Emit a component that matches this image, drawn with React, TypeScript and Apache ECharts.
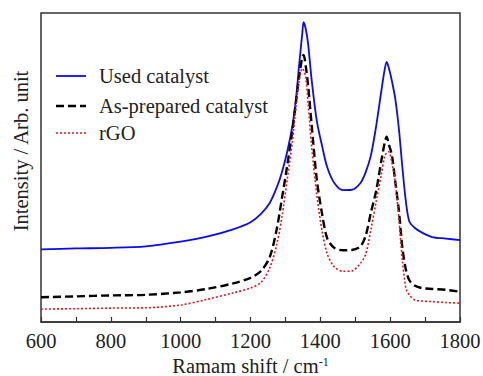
import React, { useEffect, useRef } from "react";
import * as echarts from "echarts";

const wavenumbers = [600, 700, 800, 900, 1000, 1075, 1150, 1200, 1230, 1255, 1275, 1290, 1305, 1320, 1330, 1340, 1348, 1352, 1358, 1365, 1375, 1390, 1405, 1420, 1440, 1465, 1490, 1515, 1530, 1545, 1560, 1575, 1584, 1590, 1596, 1605, 1615, 1625, 1635, 1645, 1655, 1670, 1690, 1720, 1760, 1800];

const usedCatalyst = [23.5, 23.8, 24, 24.5, 26, 27.6, 30, 32.3, 35, 38.5, 43.5, 48.5, 55, 63.5, 72, 84, 93, 97, 95, 90, 78.5, 65, 57, 50, 45, 42.7, 42.8, 45, 48.5, 54, 63.5, 75, 81.5, 84.2, 82.3, 78, 72, 62.5, 50, 39, 32.5, 30.5, 29, 27.5, 27, 26.5];

const asPrepared = [8, 8.3, 8.6, 8.8, 9.6, 10.7, 12.5, 14.3, 16.5, 21, 30, 40, 50.5, 62, 71, 80, 85.5, 86.4, 83, 76.5, 64, 46, 35, 27, 24, 23.2, 23.3, 24.5, 28, 35.5, 42.5, 52.4, 57.8, 60, 57.5, 54, 45, 36, 24, 17, 13.5, 11.8, 11, 10.7, 10.4, 9.8];

const rGO = [4.2, 4.3, 4.5, 4.6, 5.5, 7.3, 9.4, 11, 12.8, 17.5, 25, 34, 46, 58.5, 69.5, 78.5, 82, 81.5, 79.4, 71, 57, 41, 29.5, 22, 17.8, 16.4, 16.5, 19, 22, 30, 39, 48, 53.5, 54.8, 55.1, 51.5, 45, 33.5, 20, 11, 8.7, 7.2, 6.8, 6.6, 6.3, 6.1];

const seriesNames = ["Used catalyst", "As-prepared catalyst", "rGO"];
const seriesColors = ["#0a0af5", "#000000", "#e8141c"];
const xAxisTitle = "Ramam shift / cm";
const xAxisTitleSup = "-1";
const yAxisTitle = "Intensity / Arb. unit";

const FONT = "Liberation Serif";

export default function App() {
  const ref = useRef<HTMLDivElement>(null);
  useEffect(() => {
    if (!ref.current) return;
    const chart = echarts.init(ref.current, null, { renderer: "svg" });
    const pairs = (ys: number[]) => wavenumbers.map((x, i) => [x, ys[i]]);
    const lineStyles = [
      { color: seriesColors[0], width: 1.8 },
      { color: seriesColors[1], width: 2.4, type: [8, 4] },
      { color: seriesColors[2], width: 1.6, type: [2, 2] },
    ];
    const legendRows = [76, 106, 133];
    const legendGraphics: any[] = [];
    seriesNames.forEach((name, i) => {
      legendGraphics.push({
        type: "line",
        shape: { x1: 56, y1: legendRows[i], x2: 86, y2: legendRows[i] },
        style: {
          stroke: lineStyles[i].color,
          lineWidth: lineStyles[i].width,
          lineDash: (lineStyles[i] as any).type || null,
        },
      });
      legendGraphics.push({
        type: "text",
        x: 99,
        y: legendRows[i],
        style: {
          text: name,
          fontFamily: FONT,
          fontSize: 20.5,
          fill: "#222",
          align: "left",
          verticalAlign: "middle",
        },
      });
    });
    chart.setOption({
      animation: false,
      backgroundColor: "#fff",
      textStyle: { fontFamily: FONT },
      grid: {
        left: 41,
        right: 23,
        top: 13,
        bottom: 54,
        outerBoundsMode: "none",
        containLabel: false,
        show: true,
        borderColor: "#333",
        borderWidth: 1.5,
        backgroundColor: "transparent",
      },
      xAxis: {
        type: "value",
        min: 600,
        max: 1800,
        interval: 200,
        name: `{a|${xAxisTitle}}{b|${xAxisTitleSup}}`,
        nameLocation: "middle",
        nameGap: 31,
        nameTextStyle: {
          rich: {
            a: { fontFamily: FONT, fontSize: 20.5, color: "#222" },
            b: { fontFamily: FONT, fontSize: 12, color: "#222", verticalAlign: "top", lineHeight: 14 },
          },
        },
        axisLine: { show: true, lineStyle: { color: "#333", width: 1.5 } },
        axisTick: { show: true, inside: true, length: 5, lineStyle: { color: "#333", width: 1.2 } },
        minorTick: { show: true, splitNumber: 2, length: 5, lineStyle: { color: "#333", width: 1.2 } },
        axisLabel: {
          fontFamily: FONT,
          fontSize: 20.5,
          color: "#222",
          margin: 8,
          formatter: (v: number) => String(v),
        },
        splitLine: { show: false },
        minorSplitLine: { show: false },
      },
      yAxis: {
        type: "value",
        min: 0,
        max: 100,
        axisLine: { show: false },
        axisTick: { show: false },
        axisLabel: { show: false },
        splitLine: { show: false },
      },
      graphic: [
        {
          type: "text",
          x: 21,
          y: 151,
          rotation: Math.PI / 2,
          style: {
            text: yAxisTitle,
            fontFamily: FONT,
            fontSize: 20.5,
            fill: "#222",
            align: "center",
            verticalAlign: "middle",
          },
        },
        ...legendGraphics,
      ],
      series: seriesNames.map((name, i) => ({
        name,
        type: "line",
        data: pairs([usedCatalyst, asPrepared, rGO][i]),
        showSymbol: false,
        symbol: "none",
        smooth: 0.3,
        lineStyle: lineStyles[i],
        itemStyle: { color: seriesColors[i] },
      })),
    });
    return () => chart.dispose();
  }, []);
  return <div ref={ref} style={{ width: 483, height: 376, position: "absolute", left: 0, top: 0 }} />;
}
